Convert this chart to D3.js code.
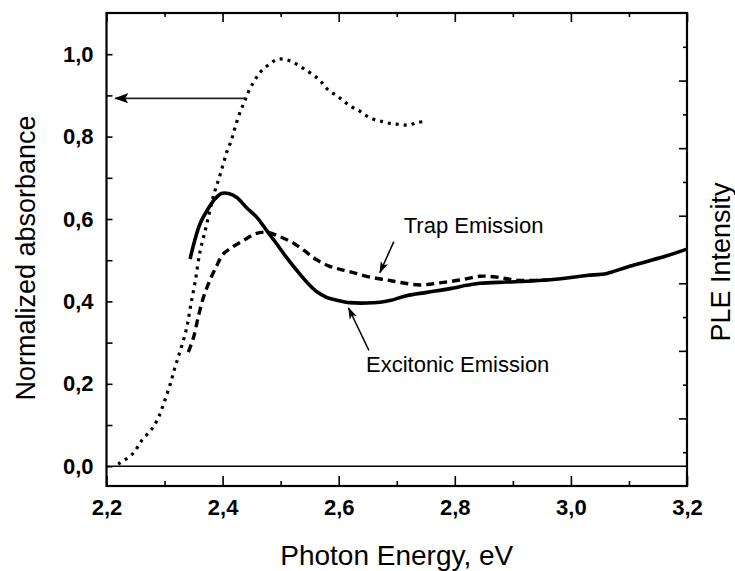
<!DOCTYPE html>
<html>
<head>
<meta charset="utf-8">
<script src="https://cdn.jsdelivr.net/npm/d3@7"></script>
<style>
	body { margin: 0; background: #fff; }
	svg { display: block; font-family: "Liberation Sans", Arial, sans-serif; }
</style>
</head>
<body>
<svg id="chart" width="735" height="571"></svg>
<script>
// absorbance (dotted)
const absX = [2.22, 2.245, 2.262, 2.278, 2.29, 2.30, 2.31, 2.318, 2.327, 2.338, 2.345, 2.353, 2.361, 2.37, 2.378, 2.385, 2.393, 2.401, 2.408, 2.415, 2.421, 2.429, 2.435, 2.44, 2.445, 2.453, 2.46, 2.47, 2.482, 2.493, 2.505, 2.519, 2.532, 2.545, 2.559, 2.571, 2.582, 2.597, 2.608, 2.622, 2.634, 2.645, 2.66, 2.674, 2.688, 2.703, 2.72, 2.735, 2.75];
const absY = [0.005, 0.03, 0.065, 0.09, 0.12, 0.158, 0.2, 0.24, 0.28, 0.335, 0.39, 0.45, 0.52, 0.572, 0.62, 0.66, 0.695, 0.733, 0.766, 0.79, 0.82, 0.855, 0.876, 0.893, 0.91, 0.931, 0.947, 0.964, 0.977, 0.987, 0.988, 0.982, 0.972, 0.96, 0.947, 0.931, 0.913, 0.899, 0.887, 0.872, 0.864, 0.853, 0.842, 0.837, 0.832, 0.83, 0.828, 0.834, 0.837];

// PLE, excitonic emission (solid)
const excX = [2.344, 2.352, 2.361, 2.373, 2.387, 2.398, 2.41, 2.424, 2.441, 2.459, 2.476, 2.493, 2.51, 2.528, 2.545, 2.562, 2.579, 2.597, 2.619, 2.648, 2.671, 2.688, 2.717, 2.752, 2.792, 2.82, 2.843, 2.889, 2.924, 2.958, 2.993, 3.027, 3.062, 3.096, 3.131, 3.165, 3.2];
const excY = [0.503, 0.548, 0.588, 0.62, 0.649, 0.662, 0.662, 0.653, 0.628, 0.604, 0.572, 0.54, 0.507, 0.475, 0.447, 0.424, 0.41, 0.403, 0.397, 0.396, 0.398, 0.402, 0.414, 0.422, 0.431, 0.439, 0.444, 0.447, 0.449, 0.452, 0.457, 0.463, 0.468, 0.483, 0.497, 0.511, 0.527];

// PLE, trap emission (dashed)
const trapX = [2.341, 2.35, 2.358, 2.367, 2.378, 2.39, 2.401, 2.416, 2.436, 2.456, 2.476, 2.499, 2.519, 2.539, 2.562, 2.585, 2.602, 2.625, 2.654, 2.683, 2.706, 2.74, 2.774, 2.809, 2.843, 2.866, 2.889, 2.912, 2.94, 2.96];
const trapY = [0.277, 0.313, 0.362, 0.41, 0.451, 0.487, 0.515, 0.531, 0.548, 0.564, 0.568, 0.557, 0.544, 0.525, 0.501, 0.485, 0.478, 0.47, 0.459, 0.452, 0.446, 0.44, 0.445, 0.452, 0.461, 0.46, 0.455, 0.451, 0.451, 0.452];

const xTicks = [2.2, 2.4, 2.6, 2.8, 3.0, 3.2];
const xMinor = [2.3, 2.5, 2.7, 2.9, 3.1];
const yTicks = [0, 0.2, 0.4, 0.6, 0.8, 1.0];
const yMinor = [0.1, 0.3, 0.5, 0.7, 0.9];
const rightTicks = [2, 4, 6, 8, 10, 12];
const rightMinor = [1, 3, 5, 7, 9, 11, 13];

// annotations in data units: [x1, y1, x2, y2] (arrow points to x2,y2)
const absArrow = [2.44, 0.893, 2.215, 0.893];
const trapArrow = [2.695, 0.545, 2.671, 0.47];
const excArrow = [2.652, 0.281, 2.617, 0.384];
const labels = [
	{ text: "Trap Emission", x: 2.712, y: 0.567 },
	{ text: "Excitonic Emission", x: 2.647, y: 0.228 }
];

const m = { left: 106.5, right: 687, top: 13, bottom: 486 };

const svg = d3.select("#chart");
const x = d3.scaleLinear().domain([2.2, 3.2]).range([m.left, m.right]);
const y = d3.scaleLinear().domain([-0.048, 1.1]).range([m.bottom, m.top]);
const yR = d3.scaleLinear().domain([0, 14]).range([m.bottom, m.top]);

const comma = (d) => d3.format(".1f")(d).replace(".", ",");

// axes: ticks pointing inward
function axis(gen, tx, ty) {
	const g = svg.append("g").attr("transform", `translate(${tx},${ty})`).call(gen);
	g.select(".domain").remove();
	g.selectAll(".tick line").attr("stroke", "#000").attr("stroke-width", 1.6);
	g.selectAll(".tick text").attr("fill", "#000").attr("font-size", 22).attr("font-weight", "bold")
		.attr("font-family", "'Liberation Sans', Arial, sans-serif");
	return g;
}

axis(d3.axisBottom(x).tickValues(xTicks).tickSizeInner(-10).tickSizeOuter(0).tickPadding(13).tickFormat(comma), 0, m.bottom);
axis(d3.axisBottom(x).tickValues(xMinor).tickSizeInner(-5).tickSizeOuter(0).tickFormat(""), 0, m.bottom);
axis(d3.axisTop(x).tickValues(xTicks).tickSizeInner(-9).tickSizeOuter(0).tickFormat(""), 0, m.top);
axis(d3.axisTop(x).tickValues(xMinor).tickSizeInner(-4).tickSizeOuter(0).tickFormat(""), 0, m.top);
axis(d3.axisLeft(y).tickValues(yTicks).tickSizeInner(-6).tickSizeOuter(0).tickPadding(13).tickFormat(comma), m.left, 0);
axis(d3.axisLeft(y).tickValues(yMinor).tickSizeInner(-6).tickSizeOuter(0).tickFormat(""), m.left, 0);
axis(d3.axisRight(yR).tickValues(rightTicks).tickSizeInner(-8).tickSizeOuter(0).tickFormat(""), m.right, 0);
axis(d3.axisRight(yR).tickValues(rightMinor).tickSizeInner(-4).tickSizeOuter(0).tickFormat(""), m.right, 0);

// frame and zero line
svg.append("rect").attr("x", m.left).attr("y", m.top).attr("width", m.right - m.left).attr("height", m.bottom - m.top)
	.attr("fill", "none").attr("stroke", "#000").attr("stroke-width", 2.2);
svg.append("line").attr("x1", m.left).attr("x2", m.right).attr("y1", y(0)).attr("y2", y(0))
	.attr("stroke", "#000").attr("stroke-width", 1.4);

// curves
const line = d3.line().x((d) => x(d[0])).y((d) => y(d[1])).curve(d3.curveCatmullRom);
const zip = (a, b) => a.map((v, i) => [v, b[i]]);

svg.append("path").attr("d", line(zip(absX, absY))).attr("fill", "none")
	.attr("stroke", "#000").attr("stroke-width", 3.2).attr("stroke-dasharray", "3,5");
svg.append("path").attr("d", line(zip(trapX, trapY))).attr("fill", "none")
	.attr("stroke", "#000").attr("stroke-width", 3.4).attr("stroke-dasharray", "8,5");
svg.append("path").attr("d", line(zip(excX, excY))).attr("fill", "none")
	.attr("stroke", "#000").attr("stroke-width", 3.6).attr("stroke-linejoin", "round");

// arrow heads
const defs = svg.append("defs");
defs.append("marker").attr("id", "smallHead").attr("viewBox", "0 0 12 8").attr("refX", 11).attr("refY", 4)
	.attr("markerUnits", "userSpaceOnUse").attr("markerWidth", 12).attr("markerHeight", 8).attr("orient", "auto")
	.append("path").attr("d", "M0,0 L12,4 L0,8 L3,4 Z").attr("fill", "#000");
defs.append("marker").attr("id", "bigHead").attr("viewBox", "0 0 14 10").attr("refX", 13).attr("refY", 5)
	.attr("markerUnits", "userSpaceOnUse").attr("markerWidth", 14).attr("markerHeight", 10).attr("orient", "auto")
	.append("path").attr("d", "M0,0 L14,5 L0,10 L3,5 Z").attr("fill", "#000");

svg.append("line").attr("x1", x(absArrow[0])).attr("y1", y(absArrow[1])).attr("x2", x(absArrow[2])).attr("y2", y(absArrow[3]))
	.attr("stroke", "#222").attr("stroke-width", 1.8).attr("marker-end", "url(#bigHead)");

[trapArrow, excArrow].forEach((a) => {
	svg.append("line").attr("x1", x(a[0])).attr("y1", y(a[1])).attr("x2", x(a[2])).attr("y2", y(a[3]))
		.attr("stroke", "#000").attr("stroke-width", 1.5).attr("marker-end", "url(#smallHead)");
});

labels.forEach((l) => {
	svg.append("text").attr("x", x(l.x)).attr("y", y(l.y)).attr("font-size", 22).text(l.text);
});

// axis titles
svg.append("text").attr("x", x(2.7)).attr("y", 565).attr("text-anchor", "middle").attr("font-size", 28)
	.text("Photon Energy, eV");
svg.append("text").attr("transform", "translate(35,258) rotate(-90)").attr("text-anchor", "middle").attr("font-size", 27)
	.text("Normalized absorbance");
svg.append("text").attr("transform", "translate(730,262) rotate(-90)").attr("text-anchor", "middle").attr("font-size", 27)
	.text("PLE Intensity");
</script>
</body>
</html>
